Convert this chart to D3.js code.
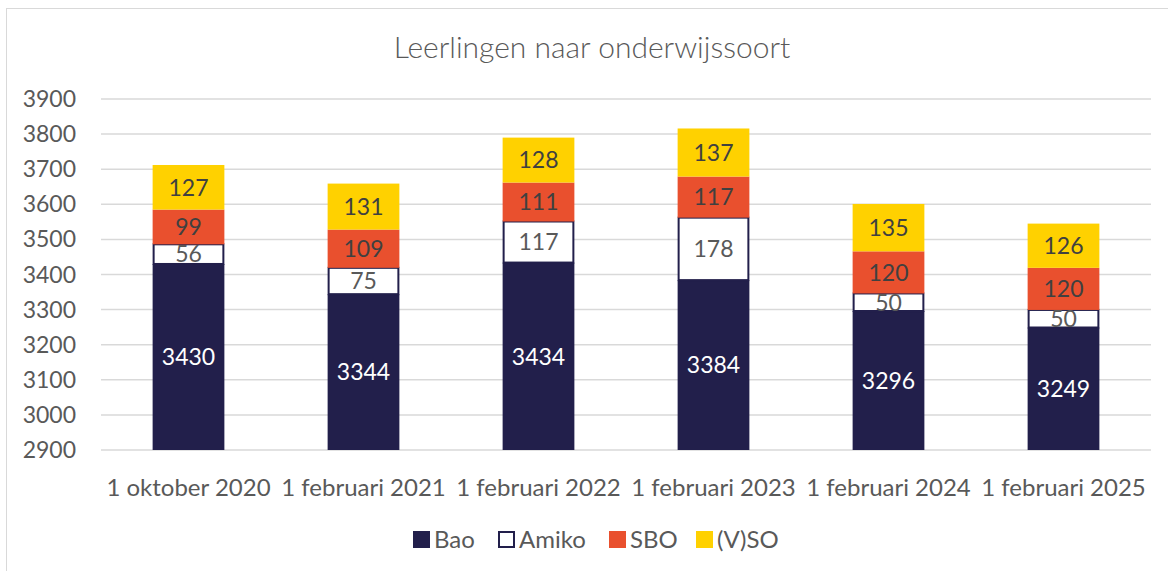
<!DOCTYPE html>
<html>
<head>
<meta charset="utf-8">
<script src="https://cdn.jsdelivr.net/npm/d3@7"></script>
<style>
  body { margin: 0; background: #fff; }
  text { font-family: Lato, "Open Sans", sans-serif; }
</style>
</head>
<body>
<div id="vis"></div>
<script>
// data
var categories = ["1 oktober 2020", "1 februari 2021", "1 februari 2022", "1 februari 2023", "1 februari 2024", "1 februari 2025"];
var seriesNames = ["Bao", "Amiko", "SBO", "(V)SO"];
var bao   = [3430, 3344, 3434, 3384, 3296, 3249];
var amiko = [56, 75, 117, 178, 50, 50];
var sbo   = [99, 109, 111, 117, 120, 120];
var vso   = [127, 131, 128, 137, 135, 126];
var yTicks = [2900, 3000, 3100, 3200, 3300, 3400, 3500, 3600, 3700, 3800, 3900];

var W = 1168, H = 571;
var margin = {top: 99, right: 17, bottom: 121, left: 101},
	width = W - margin.left - margin.right,
	height = H - margin.top - margin.bottom;

var colors = {"Bao": "#221f4b", "Amiko": "#ffffff", "SBO": "#e9502e", "(V)SO": "#ffd100"};
var labelColors = {"Bao": "#ffffff", "Amiko": "#595959", "SBO": "#404040", "(V)SO": "#404040"};

var table = categories.map(function(c, i) {
	return {cat: c, "Bao": bao[i], "Amiko": amiko[i], "SBO": sbo[i], "(V)SO": vso[i]};
});

var svg = d3.select("#vis").append("svg")
	.attr("width", W)
	.attr("height", H);

// chart frame
svg.append("rect")
	.attr("x", 6.5).attr("y", 8.5)
	.attr("width", W).attr("height", H)
	.attr("fill", "none")
	.attr("stroke", "#d9d9d9");

svg.append("text")
	.attr("x", 592).attr("y", 58)
	.attr("text-anchor", "middle")
	.attr("font-size", 30)
	.attr("font-weight", 300)
	.attr("fill", "#595959")
	.text("Leerlingen naar onderwijssoort");

var plot = svg.append("g")
	.attr("transform", "translate(" + margin.left + "," + margin.top + ")");

var x = d3.scaleBand().domain(categories).range([0, width]).paddingInner(0.59).paddingOuter(0.295);
var y = d3.scaleLinear().domain([2900, 3900]).range([height, 0]);

// gridlines
plot.selectAll(".grid")
	.data(yTicks)
	.enter().append("line")
	.attr("x1", 0).attr("x2", width)
	.attr("y1", function(d) { return y(d); })
	.attr("y2", function(d) { return y(d); })
	.attr("stroke", "#d9d9d9")
	.attr("stroke-width", 1.5);

// y axis labels
plot.selectAll(".ytick")
	.data(yTicks)
	.enter().append("text")
	.attr("x", -25)
	.attr("y", function(d) { return y(d); })
	.attr("dy", "0.35em")
	.attr("text-anchor", "end")
	.attr("font-size", 23)
	.attr("fill", "#595959")
	.text(function(d) { return d; });

// x axis labels
plot.selectAll(".xtick")
	.data(categories)
	.enter().append("text")
	.attr("x", function(d) { return x(d) + x.bandwidth() / 2; })
	.attr("y", height + 46)
	.attr("text-anchor", "middle")
	.attr("font-size", 24)
	.attr("fill", "#595959")
	.text(function(d) { return d; });

var stack = d3.stack().keys(seriesNames);
var layers = stack(table);

svg.append("clipPath").attr("id", "plotclip")
	.append("rect").attr("x", 0).attr("y", -20).attr("width", width).attr("height", height + 20);

var layer = plot.selectAll(".layer")
	.data(layers)
	.enter().append("g")
	.attr("class", "layer")
	.attr("clip-path", "url(#plotclip)");

layer.selectAll("rect")
	.data(function(d) { return d.map(function(p) { return {key: d.key, p: p}; }); })
	.enter().append("rect")
	.attr("x", function(d) { return x(d.p.data.cat) + (d.key == "Amiko" ? 1 : 0); })
	.attr("y", function(d) { return y(d.p[1]); })
	.attr("width", function(d) { return x.bandwidth() - (d.key == "Amiko" ? 2 : 0); })
	.attr("height", function(d) { return y(d.p[0]) - y(d.p[1]); })
	.attr("fill", function(d) { return colors[d.key]; })
	.attr("stroke", function(d) { return d.key == "Amiko" ? "#221f4b" : "none"; })
	.attr("stroke-width", 2);

// data labels, centred on the visible part of each segment
layer.selectAll("text")
	.data(function(d) { return d.map(function(p) { return {key: d.key, p: p}; }); })
	.enter().append("text")
	.attr("x", function(d) { return x(d.p.data.cat) + x.bandwidth() / 2; })
	.attr("y", function(d) {
		var lo = Math.max(d.p[0], y.domain()[0]);
		return y((lo + d.p[1]) / 2);
	})
	.attr("dy", "0.36em")
	.attr("text-anchor", "middle")
	.attr("font-size", 23)
	.attr("fill", function(d) { return labelColors[d.key]; })
	.text(function(d) { return d.p[1] - d.p[0]; });

// legend
var legendX = [413, 498, 609, 696];
var legend = svg.selectAll(".legend")
	.data(seriesNames)
	.enter().append("g")
	.attr("transform", function(d, i) { return "translate(" + legendX[i] + ",531)"; });

legend.append("rect")
	.attr("x", function(d) { return d == "Amiko" ? 1 : 0; })
	.attr("y", function(d) { return d == "Amiko" ? 1 : 0; })
	.attr("width", function(d) { return d == "Amiko" ? 15 : 17; })
	.attr("height", function(d) { return d == "Amiko" ? 15 : 17; })
	.attr("fill", function(d) { return colors[d]; })
	.attr("stroke", function(d) { return d == "Amiko" ? "#221f4b" : "none"; })
	.attr("stroke-width", 2);

legend.append("text")
	.attr("x", 21)
	.attr("y", 8.5)
	.attr("dy", "0.36em")
	.attr("font-size", 24)
	.attr("fill", "#595959")
	.text(function(d) { return d; });
</script>
</body>
</html>
